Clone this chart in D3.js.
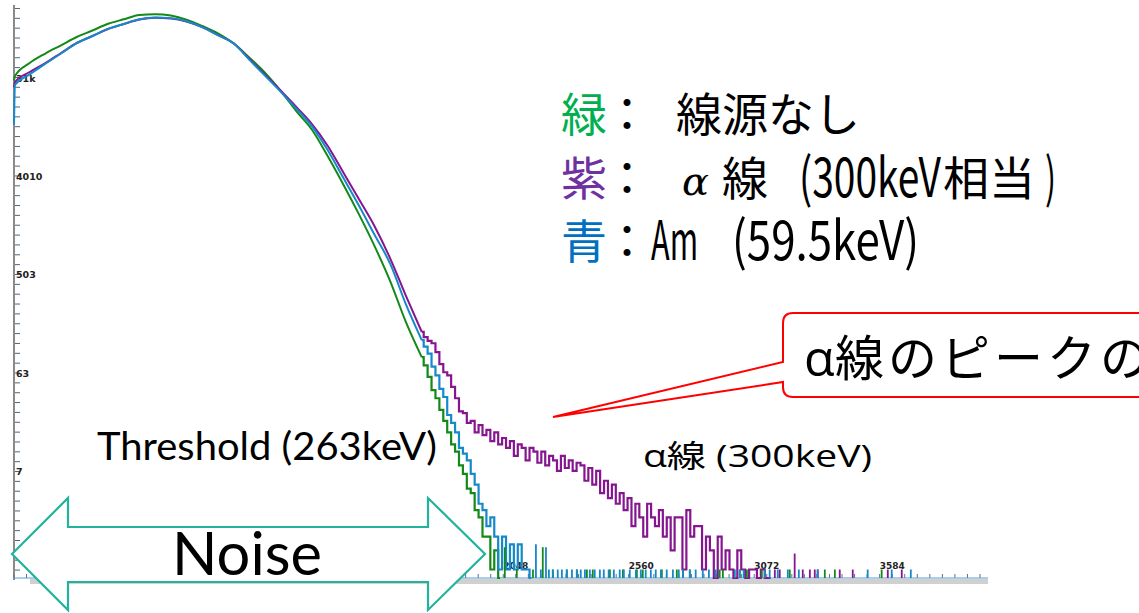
<!DOCTYPE html>
<html>
<head>
<meta charset="utf-8">
<script src="https://cdn.jsdelivr.net/npm/d3@7"></script>
<style>
  html, body { margin: 0; padding: 0; background: #ffffff; }
  svg { display: block; }
</style>
</head>
<body>
<svg id="chart" width="1139" height="613"></svg>
<script>
// ---- Pulse-height spectra (counts per channel, log scale) ----

// Smooth part of each spectrum, sampled at these channels
const bodyChannels = [0, 4, 64, 128, 192, 256, 320, 384, 448, 512, 576, 640, 704, 768,
  832, 896, 960, 1024, 1088, 1152, 1216, 1280, 1344, 1408, 1472, 1536, 1600];

const greenBody = [30000, 33050, 43470, 53110, 63130, 75220, 86250, 99350, 109200, 119600,
  121600, 118100, 108500, 94880, 81140, 65710, 48800, 35400, 24170, 15790, 10650, 6120,
  3360, 1785, 910, 433, 183];
const purpleBody = [26000, 29100, 35950, 43470, 53680, 66280, 76800, 89000, 98900, 108800,
  112700, 111100, 104300, 92500, 78450, 65860, 47500, 34100, 24340, 17220, 12010, 7600,
  4330, 2455, 1383, 700, 319];
const blueBody = [11800, 27340, 34190, 42760, 53110, 65990, 76800, 89200, 99100, 109500,
  113500, 112000, 104700, 92700, 78100, 65860, 46700, 33300, 23790, 16620, 11440, 6930,
  3860, 2140, 1156, 625, 266];

// Low-count region: one value every 16 channels starting at channel 1664
const noiseStart = 1664;
const noiseStep = 16;
const greenNoise = [88, 74, 58, 44, 37, 29, 23, 18, 14, 12, 9, 7.5, 5.5, 5, 3.5, 3, 2, 2, 1,
  1.5, 0];
const blueNoise = [126, 110, 95, 72, 60, 45, 38, 26, 22, 18, 13, 11.5, 10, 7.5, 6, 4, 3.5,
  2.5, 3, 2, 1, 2, 1, 1.7, 1, 1.7, 1, 1, 0];
const purpleNoise = [150, 134, 124, 118, 98, 76, 64, 60, 47, 37, 28,
  27, 22, 23, 18, 21, 17, 19, 15, 18, 14,
  16, 13, 15, 11, 14, 13, 10, 13, 12, 9.5,
  12, 9, 11, 10, 8, 11, 8.5, 10, 8, 9.5,
  9, 6.5, 8.5, 6, 8, 5, 6.5, 4.5, 6, 4,
  5, 3.5, 4.5, 2.5, 4, 3, 2, 4, 3, 2.5,
  3.5, 2, 3, 1.5, 3, 3, 1, 3.5, 2, 2.5,
  2.5, 1, 2, 1.5, 0, 2, 1, 1.5, 1, 0,
  1.5, 1, 0, 1, 1, 0, 1, 0, 0];

// Isolated single-channel events in the tails: [channel, counts]
const greenSpikes = [[2003, 1.6], [2052, 1], [2118, 1], [2158, 1.6], [2199, 1], [2256, 1],
  [2297, 1], [2338, 1], [2362, 1], [2432, 1], [2485, 1], [2542, 1], [2566, 1], [2644, 1],
  [2705, 1], [2730, 1], [2758, 1], [2880, 1], [2893, 1], [2962, 1], [2991, 1], [3052, 1],
  [3166, 1], [3309, 1], [3350, 1], [3541, 1]];
const blueSpikes = [[2130, 1.7], [2150, 1], [2171, 1.6], [2183, 1], [2199, 1], [2219, 1],
  [2236, 1], [2256, 1], [2277, 1], [2297, 1], [2313, 1], [2330, 1], [2350, 1], [2370, 1],
  [2391, 1], [2407, 1], [2427, 1], [2448, 1], [2472, 1], [2489, 1], [2513, 1], [2538, 1],
  [2558, 1], [2578, 1], [2599, 1], [2619, 1], [2640, 1], [2664, 1], [2689, 1], [2713, 1],
  [2730, 1], [2758, 1], [2782, 1], [2811, 1], [2836, 1], [2864, 1], [2942, 1], [2962, 1],
  [2978, 1], [3064, 1], [3084, 1], [3117, 1], [3158, 1], [3203, 1], [3280, 1], [3484, 1],
  [3582, 1], [3660, 1]];
const purpleSpikes = [[3105, 1], [3125, 1], [3186, 1.4], [3219, 1], [3248, 1], [3268, 1],
  [3280, 1], [3370, 1], [3423, 1], [3566, 1], [3623, 1]];

// Axis ticks
const yTickValues = [7.9, 63, 503, 4010, 31900];
const yTickLabels = ["7", "63", "503", "4010", "31k"];
const xTickValues = [2048, 2560, 3072, 3584];

// ---- Scales ----
const yMin = 0.836, yMax = 147700;
const x = d3.scaleLinear().domain([0, 3975]).range([14, 988]);
const y = d3.scaleLog().domain([yMin, yMax]).range([578, 5]).clamp(true);
const yv = v => y(Math.max(v, yMin));

const svg = d3.select("#chart");

// ---- Axes ----
const axisG = svg.append("g");

// scroll strip under the plot
axisG.append("rect").attr("x", 30).attr("y", 579).attr("width", 958).attr("height", 5)
  .attr("fill", "#d0d0d0");

// y minor ticks: ten per labelled interval
const labelRatio = 503 / 63;
const yMinor = [];
for (let j = -30; j <= 40; j++) {
  const v = 63 * Math.pow(labelRatio, j / 10);
  if (v >= yMin && v <= yMax) yMinor.push(v);
}
axisG.selectAll("line.ymin").data(yMinor).join("line")
  .attr("x1", 14).attr("x2", 20)
  .attr("y1", d => y(d)).attr("y2", d => y(d))
  .attr("stroke", "#4d6485").attr("stroke-width", 1);

axisG.append("line").attr("x1", 14).attr("x2", 14).attr("y1", 5).attr("y2", 580)
  .attr("stroke", "#8a8a8a").attr("stroke-width", 2);

axisG.selectAll("text.ylab").data(yTickValues).join("text")
  .attr("x", 16).attr("y", d => y(d) + 4)
  .attr("font-family", "DejaVu Sans").attr("font-weight", "bold").attr("font-size", 9.5)
  .attr("fill", "#222").text((d, i) => yTickLabels[i]);

// x minor ticks every 51.2 channels
const xMinor = d3.range(0, 3975, 51.2);
axisG.selectAll("line.xmin").data(xMinor).join("line")
  .attr("x1", d => x(d)).attr("x2", d => x(d)).attr("y1", 574).attr("y2", 578)
  .attr("stroke", "#5a7090").attr("stroke-width", 1);

axisG.selectAll("text.xlab").data(xTickValues).join("text")
  .attr("x", d => x(d)).attr("y", 569).attr("text-anchor", "middle")
  .attr("font-family", "DejaVu Sans").attr("font-weight", "bold").attr("font-size", 9)
  .attr("fill", "#222").text(d => d);

// baseline
axisG.append("line").attr("x1", 14).attr("x2", 988).attr("y1", 578).attr("y2", 578)
  .attr("stroke", "#5b9bd0").attr("stroke-width", 1);

// ---- Spectra ----
const series = [
  { color: "#138a17", body: greenBody, noise: greenNoise, spikes: greenSpikes },
  { color: "#86168f", body: purpleBody, noise: purpleNoise, spikes: purpleSpikes },
  { color: "#1589c9", body: blueBody, noise: blueNoise, spikes: blueSpikes }
];

const smoothLine = d3.line().x(d => x(d[0])).y(d => yv(d[1])).curve(d3.curveMonotoneX);
const stepLine = d3.line().x(d => x(d[0])).y(d => yv(d[1])).curve(d3.curveStep);

const plotG = svg.append("g");
series.forEach(s => {
  const body = bodyChannels.map((c, i) => [c, s.body[i]]);
  const noise = s.noise.map((v, i) => [noiseStart + i * noiseStep, v]);
  plotG.append("path").attr("d", smoothLine(body.concat([noise[0]])))
    .attr("fill", "none").attr("stroke", s.color).attr("stroke-width", 2);
  plotG.append("path").attr("d", stepLine(noise))
    .attr("fill", "none").attr("stroke", s.color).attr("stroke-width", 2.2)
    .attr("stroke-linejoin", "miter");
});
series.forEach(s => {
  plotG.selectAll(null).data(s.spikes).join("line")
    .attr("x1", d => x(d[0])).attr("x2", d => x(d[0]))
    .attr("y1", y(yMin)).attr("y2", d => yv(d[1]))
    .attr("stroke", s.color).attr("stroke-width", 1.8);
});

// ---- Annotations ----
const annG = svg.append("g");

// legend
const cjk = "'Noto Sans CJK JP', sans-serif";
const legendRows = [
  { key: "緑", color: "#00b050", baseline: 131 },
  { key: "紫", color: "#7030a0", baseline: 195 },
  { key: "青", color: "#0070c0", baseline: 258 }
];
legendRows.forEach(r => {
  annG.append("text").attr("x", 561).attr("y", r.baseline)
    .attr("font-family", cjk).attr("font-size", 46).attr("fill", r.color).text(r.key);
  annG.append("text").attr("x", 604).attr("y", r.baseline)
    .attr("font-family", cjk).attr("font-size", 46).attr("fill", "#000").text("：");
});
// row 1
annG.append("text").attr("x", 676).attr("y", 131)
  .attr("font-family", cjk).attr("font-size", 46).attr("fill", "#000").text("線源なし");
// row 2
annG.append("text").attr("x", 682).attr("y", 195)
  .attr("font-family", "'DejaVu Serif', serif").attr("font-style", "italic")
  .attr("font-size", 40).attr("fill", "#000").text("α");
annG.append("text").attr("x", 722).attr("y", 195)
  .attr("font-family", cjk).attr("font-size", 46).attr("fill", "#000").text("線");
annG.append("text").attr("x", 799).attr("y", 197)
  .attr("font-family", cjk).attr("font-size", 54).attr("fill", "#000")
  .attr("textLength", 142).attr("lengthAdjust", "spacingAndGlyphs").text("(300keV");
annG.append("text").attr("x", 943).attr("y", 195)
  .attr("font-family", cjk).attr("font-size", 46).attr("fill", "#000").text("相当");
annG.append("text").attr("x", 1045).attr("y", 197)
  .attr("font-family", cjk).attr("font-size", 54).attr("fill", "#000")
  .attr("textLength", 11).attr("lengthAdjust", "spacingAndGlyphs").text(")");
// row 3
annG.append("text").attr("x", 651).attr("y", 260)
  .attr("font-family", cjk).attr("font-size", 54).attr("fill", "#000")
  .attr("textLength", 47).attr("lengthAdjust", "spacingAndGlyphs").text("Am");
annG.append("text").attr("x", 732).attr("y", 260)
  .attr("font-family", cjk).attr("font-size", 54).attr("fill", "#000")
  .attr("textLength", 187).attr("lengthAdjust", "spacingAndGlyphs").text("(59.5keV)");

// callout
annG.append("path")
  .attr("d", "M793,313 H1170 V397 H793 Q783,397 783,387 V382 L553,417 L783,362 V323 Q783,313 793,313 Z")
  .attr("fill", "#ffffff").attr("stroke", "#ff0000").attr("stroke-width", 2);
annG.append("text").attr("x", 804).attr("y", 376)
  .attr("font-family", "'Open Sans', sans-serif").attr("font-size", 50).attr("fill", "#000")
  .text("α");
annG.append("text").attr("x", 835).attr("y", 376)
  .attr("font-family", cjk).attr("font-size", 49).attr("letter-spacing", 4)
  .attr("fill", "#000").text("線のピークの");

// threshold and alpha labels
annG.append("text").attr("x", 97).attr("y", 460)
  .attr("font-family", "Lato, sans-serif").attr("font-size", 38).attr("fill", "#000")
  .attr("textLength", 340).attr("lengthAdjust", "spacingAndGlyphs").text("Threshold (263keV)");
annG.append("text").attr("x", 643).attr("y", 467)
  .attr("font-family", "'Open Sans', 'Noto Sans CJK JP', sans-serif").attr("font-size", 31)
  .attr("fill", "#000").attr("textLength", 229).attr("lengthAdjust", "spacingAndGlyphs")
  .text("α線 (300keV)");

// noise range arrow
annG.append("path")
  .attr("d", "M12,554 L68,498 L68,527 L428,527 L428,498 L485,554 L428,610 L428,582 L68,582 L68,610 Z")
  .attr("fill", "#ffffff").attr("stroke", "#22b39c").attr("stroke-width", 2.2)
  .attr("stroke-linejoin", "miter");
annG.append("text").attr("x", 172).attr("y", 575)
  .attr("font-family", "Lato, sans-serif").attr("font-size", 60).attr("fill", "#000")
  .attr("textLength", 150).attr("lengthAdjust", "spacingAndGlyphs").text("Noise");
</script>
</body>
</html>
